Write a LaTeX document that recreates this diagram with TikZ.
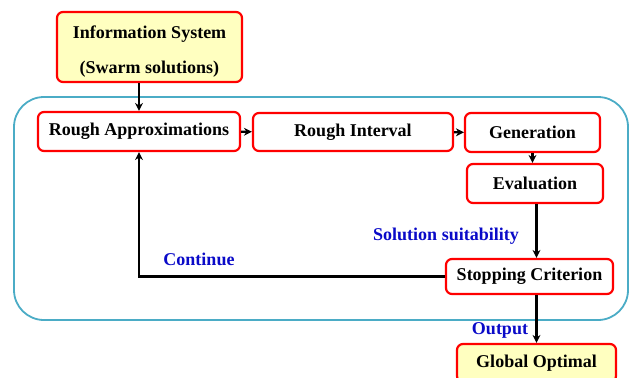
\documentclass[tikz,border=0pt]{standalone}
\usepackage{fontspec}
\setmainfont{Liberation Serif}
\usetikzlibrary{arrows.meta}

\definecolor{boxred}{RGB}{255,0,0}
\definecolor{boxyellow}{RGB}{255,255,192}
\definecolor{frameblue}{RGB}{75,172,198}
\definecolor{labelblue}{RGB}{10,10,200}

\tikzset{
    procbox/.style={draw=boxred, line width=2.2pt, rounded corners=6pt, fill=white,
        inner sep=0pt, font=\fontsize{18}{21}\selectfont\bfseries},
    infobox/.style={procbox, fill=boxyellow, align=center},
    flow/.style={line width=2.2pt, -{Stealth[length=8pt,width=8pt]}},
    steplabel/.style={text=labelblue, inner sep=0pt, font=\fontsize{18}{21}\selectfont\bfseries},
}

\begin{document}
\begin{tikzpicture}[x=1pt, y=-1pt]
            \useasboundingbox (0,0) rectangle (633,378);

            % Draw Outer Frame
            \draw[frameblue, line width=1.8pt, rounded corners=30pt] (14,97) rectangle (628,320);

            % Draw Boxes
            \node[infobox, minimum width=185pt, minimum height=70pt] (info) at (149.5,47)
                {\rule{0pt}{21pt}Information System\\[14pt](Swarm solutions)};
            \node[procbox, minimum width=202pt, minimum height=39pt] (approx) at (139,131.5) {Rough Approximations};
            \node[procbox, minimum width=200pt, minimum height=38pt] (interval) at (353,132) {Rough Interval};
            \node[procbox, minimum width=135pt, minimum height=39pt] (gen) at (532.5,132.5) {Generation};
            \node[procbox, minimum width=136pt, minimum height=39pt] (eval) at (535,183.5) {Evaluation};
            \node[procbox, minimum width=167pt, minimum height=35pt] (stop) at (529.5,276.5) {Stopping Criterion};
            \node[infobox, minimum width=159pt, minimum height=38pt] (glob) at (536.5,363) {Global Optimal};

            % Draw Arrows
            \draw[flow] (approx.north |- info.south) -- (approx.north);
            \draw[flow] (approx) -- (interval);
            \draw[flow] (interval) -- (gen);
            \draw[flow] (gen.south) -- (gen.south |- eval.north);
            \draw[flow] (eval.south -| glob.north) -- (glob.north |- stop.north);
            \draw[flow] (glob.north |- stop.south) -- (glob.north);
            \draw[flow] (stop.west) -| (approx.south);

            % Arrow Labels
            \node[steplabel] (suit) at (446,236) {Solution suitability};
            \node[steplabel] (cont) at (199,259) {Continue};
            \node[steplabel] (out) at (500,330) {Output};
        \end{tikzpicture}
\end{document}
